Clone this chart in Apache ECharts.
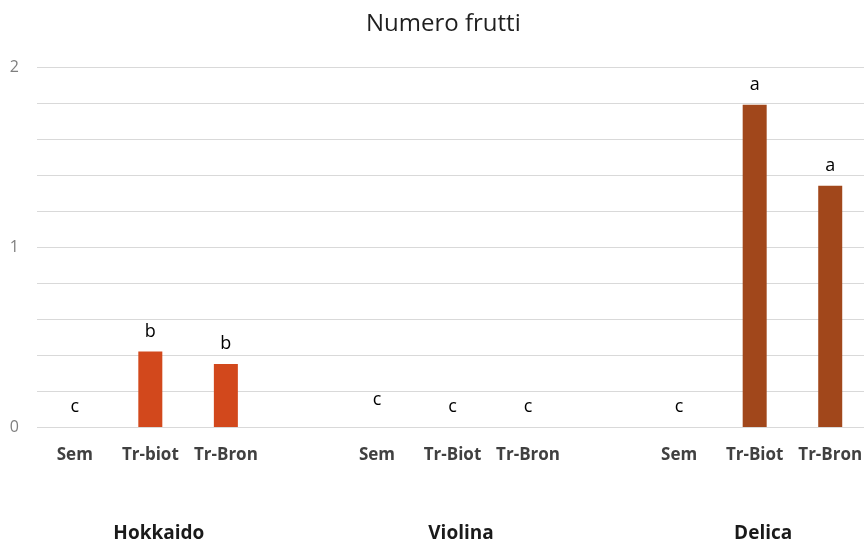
<!DOCTYPE html>
<html>
<head>
<meta charset="utf-8">
<title>Numero frutti</title>
<script src="https://cdn.jsdelivr.net/npm/echarts@6/dist/echarts.min.js"></script>
<style>
  html, body { margin: 0; padding: 0; background: #ffffff; }
  #chart { width: 864px; height: 543px; }
</style>
</head>
<body>
<div id="chart"></div>
<script>
// Varieties (outer groups) and treatments within each group
const groups = ['Hokkaido', 'Violina', 'Delica'];
const treatments = [
  ['Sem', 'Tr-biot', 'Tr-Bron'],
  ['Sem', 'Tr-Biot', 'Tr-Bron'],
  ['Sem', 'Tr-Biot', 'Tr-Bron']
];
// Mean number of fruits per treatment
const values = [
  [0, 0.42, 0.35],
  [0, 0, 0],
  [0, 1.79, 1.34]
];
// Significance letters shown above each bar
const letters = [
  ['c', 'b', 'b'],
  ['c', 'c', 'c'],
  ['c', 'a', 'a']
];
const groupColors = ['#d2481c', '#d2481c', '#a1471b'];
const yTicks = [0, 1, 2];

// Flatten groups into one category axis, with an empty slot between groups
const categories = [];
const groupRow = [];
const barData = [];
groups.forEach((g, gi) => {
  if (gi > 0) {
    categories.push('');
    groupRow.push('');
    barData.push({ value: '-', label: { show: false } });
  }
  treatments[gi].forEach((t, ti) => {
    categories.push(t);
    groupRow.push(ti === 1 ? g : '');
    const item = {
      value: values[gi][ti],
      itemStyle: { color: groupColors[gi] },
      letter: letters[gi][ti]
    };
    if (gi === 1 && ti === 0) item.label = { distance: 18 };
    barData.push(item);
  });
});

const chart = echarts.init(document.getElementById('chart'));
const FONT = '"Open Sans", "Noto Sans", sans-serif';

chart.setOption({
  animation: false,
  textStyle: { fontFamily: FONT },
  title: {
    text: 'Numero frutti',
    left: 361,
    top: 7,
    textStyle: { fontFamily: FONT, fontSize: 24, fontWeight: 'normal', color: '#1f1f1f' }
  },
  // plot area runs slightly past the right edge of the canvas
  grid: {
    left: 37, width: 831, top: 67, height: 360,
    containLabel: false,
    outerBoundsMode: 'none'
  },
  xAxis: [
    {
      type: 'category',
      data: categories,
      axisLine: { show: false },
      axisTick: { show: false },
      axisLabel: {
        interval: 0,
        margin: 20,
        fontFamily: FONT,
        fontSize: 17,
        fontWeight: 'bold',
        color: '#404040'
      }
    },
    {
      type: 'category',
      position: 'bottom',
      offset: 79,
      data: groupRow,
      axisLine: { show: false },
      axisTick: { show: false },
      axisLabel: {
        interval: 0,
        margin: 18,
        padding: [0, 0, 0, 17],
        fontFamily: FONT,
        fontSize: 19,
        fontWeight: 'bold',
        color: '#1a1a1a'
      }
    }
  ],
  yAxis: {
    type: 'value',
    min: 0,
    max: 2,
    interval: 0.2,
    axisLine: { show: false },
    axisTick: { show: false },
    splitLine: { lineStyle: { color: '#d9d9d9', width: 1 } },
    axisLabel: {
      margin: 18,
      fontFamily: FONT,
      fontSize: 16,
      color: '#7f7f7f',
      formatter: (v) => {
        const hit = yTicks.find((t) => Math.abs(t - v) < 1e-6);
        return hit === undefined ? '' : String(hit);
      }
    }
  },
  series: [
    {
      type: 'bar',
      xAxisIndex: 0,
      barWidth: 24,
      data: barData,
      label: {
        show: true,
        position: 'top',
        distance: 11,
        fontFamily: FONT,
        fontSize: 18,
        color: '#000000',
        formatter: (p) => p.data.letter || ''
      }
    }
  ]
});
</script>
</body>
</html>
